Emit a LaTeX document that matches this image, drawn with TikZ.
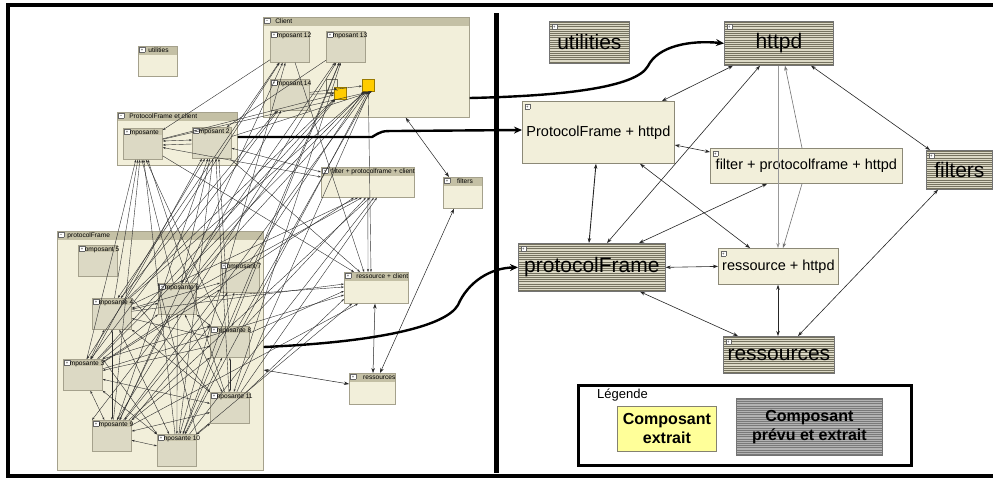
\documentclass[tikz,border=0pt]{standalone}
\usepackage{fontspec}
\setmainfont{Liberation Sans}
\usetikzlibrary{arrows.meta,calc}
\definecolor{contbg}{HTML}{F2EFDA}
\definecolor{conthd}{HTML}{C4C0A5}
\definecolor{compbg}{HTML}{DCD9C4}
\definecolor{comphd}{HTML}{C9C5AC}
\definecolor{bord}{HTML}{A5A18C}
\definecolor{stripeA}{HTML}{DCD9C6}
\definecolor{stripeB}{HTML}{75725F}
\definecolor{ylw}{HTML}{FFCC00}
\definecolor{legy}{HTML}{FFFF99}
\newcommand\ico[1]{{\setlength{\fboxsep}{0pt}\setlength{\fboxrule}{0.3pt}\fcolorbox{black!60}{white}{\makebox[4.8pt][c]{\raisebox{0.3pt}[4.6pt][0.2pt]{\fontsize{4.2}{4.2}\selectfont #1}}}}}
\newcommand\cbox[7]{\node[#2, minimum width=#5pt, minimum height=#6pt] (#1) at (#3,#4) {};
  \node[hdr] (#1-t) at ([xshift=1.2pt,yshift=-1pt]#1.north west) {#7};}
\begin{document}
\begin{tikzpicture}[x=1pt,y=-1pt,
  box/.style={draw=bord, line width=0.7pt, inner sep=0pt, anchor=north west},
  cont/.style={box, fill=contbg, path picture={\fill[conthd] (path picture bounding box.north west) rectangle ([yshift=-8.5pt]path picture bounding box.north east);}},
  comp/.style={box, fill=compbg, path picture={\fill[comphd] (path picture bounding box.north west) rectangle ([yshift=-7pt]path picture bounding box.north east);}},
  hdr/.style={anchor=north west, inner sep=0pt, font=\fontsize{6.6}{7}\selectfont, text=black},
  web/.style={draw=black!82, line width=0.4pt, -{Stealth[length=3pt,width=2pt]}},
  webd/.style={web, {Stealth[length=3pt,width=2pt]}-{Stealth[length=3pt,width=2pt]}},
  link/.style={draw=black!85, line width=0.6pt, {Stealth[length=5pt,width=3.5pt]}-{Stealth[length=5pt,width=3.5pt]}},
  glink/.style={draw=black!40, line width=0.6pt, -{Stealth[length=5pt,width=3.5pt]}},
  bigarrow/.style={draw=black, line width=2.4pt, -{Stealth[length=8pt,width=7pt]}},
  rlight/.style={box, draw=bord!85!black, line width=0.8pt, fill=contbg},
  rstripe/.style={box, draw=black!55, line width=0.7pt, fill=stripeA, path picture={\foreach \i in {0,...,30}{\draw[stripeB, line width=0.9pt] ([yshift={-(\i*2.2+1)*1pt}]path picture bounding box.north west) -- ([yshift={-(\i*2.2+1)*1pt}]path picture bounding box.north east);}}},
  gstripe/.style={box, draw=black!55, line width=0.7pt, fill=gray!60, path picture={\foreach \i in {0,...,30}{\draw[gray!95!black, line width=0.9pt] ([yshift={-(\i*2.2+1)*1pt}]path picture bounding box.north west) -- ([yshift={-(\i*2.2+1)*1pt}]path picture bounding box.north east);}}},
  big/.style={font=\fontsize{21}{24}\selectfont},
  mid/.style={font=\fontsize{14.5}{17}\selectfont},
  ico/.style={anchor=north west, inner sep=0pt}
]
\useasboundingbox (0,0) rectangle (993,479);
\fill[white] (0,0) rectangle (993,479);

% ---------------- left panel: containers ----------------
\cbox{uL}{cont}{138}{46}{39}{30}{\ico{+}\ \ utilities}
\cbox{client}{cont}{263}{17}{206}{100}{\ico{−}\ \ \ Client}
\cbox{pfc}{cont}{117}{112}{120}{53}{\ico{−}\ \ \ ProtocolFrame et client}
\cbox{pf}{cont}{57}{231}{206}{239}{\ico{−}\ \ protocolFrame}
\cbox{fpc}{cont}{321}{167}{93}{30}{\ico{+}\ \ filter + protocolframe + client}
\cbox{filtL}{cont}{443}{177}{39}{31}{\ico{+}\ \ \ \ filters}
\cbox{rcl}{cont}{344}{272}{64}{31}{\ico{+}\ \ \ ressource + client}
\cbox{resL}{cont}{349}{373}{46}{31}{\ico{+}\ \ \ \ ressources}

% components
\cbox{c12}{comp}{270}{31}{39}{31}{\ico{+}mposant 12}
\cbox{c13}{comp}{326}{31}{39}{31}{\ico{+}mposant 13}
\cbox{c14}{comp}{270}{79}{39}{31}{\ico{+}mposant 14}
\cbox{c1}{comp}{123}{128}{39}{31}{\ico{+}mposante}
\cbox{c2}{comp}{192}{127}{39}{31}{\ico{+}mposant 2}
\cbox{c5}{comp}{78}{245}{39}{31}{\ico{+}omposant 5}
\cbox{c7}{comp}{220}{262}{39}{30}{\ico{+}omposant 7}
\cbox{c6}{comp}{158}{283}{38}{31}{\ico{+}mposante 6}
\cbox{c4}{comp}{92}{298}{39}{31}{\ico{+}mposante 4}
\cbox{c8}{comp}{210}{326}{39}{31}{\ico{+}mposante 8}
\cbox{c3}{comp}{63}{359}{39}{31}{\ico{+}mposante 3}
\cbox{c11}{comp}{210}{392}{39}{31}{\ico{+}nposante 11}
\cbox{c9}{comp}{92}{420}{39}{31}{\ico{+}mposante 9}
\cbox{c10}{comp}{157}{434}{39}{32}{\ico{+}nposante 10}

\node[box, draw=bord!70!black, line width=0.4pt, minimum width=11pt, minimum height=13pt] (cbx) at (326,79) {};
\node[box, draw=ylw!60!black, line width=0.5pt, fill=ylw, minimum size=12pt] (y1) at (334,87) {};
\node[box, draw=ylw!60!black, line width=0.5pt, fill=ylw, minimum size=12pt] (y2) at (362,79) {};

% ---------------- left panel: web of dependencies ----------------
\foreach \s/\o in {c3/-7,c4/-5,c9/-3,c6/-1,c10/1,c8/3,c11/5}
  \draw[web] (\s) -- ([xshift=\o pt]c1.south);
\foreach \s/\o in {c3/-10,c4/-7,c9/-4,c6/-2,c10/1,c11/4,c8/7}
  \draw[web] (\s) -- ([xshift=\o pt]c2.south);
\draw[web] (c12) -- ([yshift=-2pt]c1.north east);
\draw[web] (c13) -- ([xshift=-5pt]c2.north east);
\foreach \s/\t/\o in {c12/c3/4, c12/c4/6, c12/c9/8, c13/c6/4, c13/c10/6, c13/c8/2, c13/c11/4, c14/c3/8, c14/c4/9, c13/c9/5, c12/c10/3, c14/c6/8}
  \draw[webd] (\s) -- ([xshift=\o pt]\t.north);
\foreach \s/\o in {c3/-4,c4/-3,c6/-2,c9/-1,c10/0,c11/1,c8/2,c1/3,c2/4,c7/-5}
  \draw[web] (\s) -- ([xshift=\o pt]y2.south);
\foreach \s in {c3,c4,c6,c1,c14}
  \draw[web] (\s) -- (y1);
\draw[web] (c14) -- (y2);
\draw[web] (cbx) -- (y1);
\foreach \s/\o in {c3/-14,c4/-10,c6/-6,c8/-2,c9/2,c10/6,c11/9}
  \draw[web] (\s) -- ([xshift=\o pt]fpc.south);
\draw[webd] (c1) -- ([yshift=-10pt]fpc.north west);
\draw[webd] (c2) -- ([yshift=-5pt]fpc.north west);
\foreach \s/\o in {c1/10,c2/16,c12/20,fpc/24}
  \draw[web] (\s) -- ([xshift=\o pt]rcl.north west);
\draw[web] (y2) -- ([xshift=27pt]rcl.north west);
\foreach \s/\o in {c4/12,c6/15,c8/19,c3/23,c11/27}
  \draw[web] (\s) -- ([yshift=-\o pt]rcl.north west);
\foreach \s/\o in {c10/8,c9/14}
  \draw[web] (\s) -- ([xshift=\o pt]rcl.south west);
\draw[webd] ([yshift=-13pt]c1.north east) -- ([yshift=-13pt]c2.north west);
\draw[web] ([yshift=-17pt]c2.north west) -- ([yshift=-17pt]c1.north east);
\foreach \a/\b in {c4/c6,c4/c8,c4/c3,c4/c9,c4/c10,c4/c11,c6/c8,c6/c3,c6/c9,c6/c10,c6/c11,c8/c3,c8/c9,c8/c10,c8/c11,c3/c9,c3/c10,c3/c11,c9/c10,c9/c11,c10/c11,c7/c3,c7/c9,c7/c4,c7/c10}
  \draw[webd] (\a) -- (\b);
\foreach \a/\b in {c4/c11,c6/c9,c3/c8,c9/c8,c10/c6,c3/c10}
  \draw[web] (\a.north east) -- (\b.north west);

% left panel plain links
\draw[link, line width=0.5pt] ([xshift=-64pt]client.south east) -- ([xshift=6pt]filtL.north west);
\draw[link, line width=0.5pt] ([xshift=11pt]filtL.south west) -- ([xshift=31pt]resL.north west);
\draw[link, line width=0.5pt] ([xshift=31pt]rcl.south west) -- ([xshift=24pt]resL.north west);
\draw[link, line width=0.5pt] ([yshift=-139pt]pf.north east) -- ([yshift=-11pt]resL.north west);

% ---------------- frame ----------------
\draw[line width=4.5pt] (993,5) -- (8,5) -- (8,476) -- (993,476);
\draw[line width=5pt] (496,13) -- (496,473);

% ---------------- right panel ----------------
\node[rstripe, big, minimum width=80pt, minimum height=42pt] (utilR) at (549,21) {utilities};
\node[rstripe, big, minimum width=109pt, minimum height=44pt] (httpd) at (724,21) {httpd};
\node[rlight, mid, minimum width=152pt, minimum height=62pt] (pfh) at (522,101) {ProtocolFrame + httpd};
\node[rlight, mid, minimum width=192pt, minimum height=35pt] (fph) at (710,148) {filter + protocolframe + httpd};
\node[rstripe, big, minimum width=66pt, minimum height=39pt] (filtR) at (926,150) {filters};
\node[rstripe, big, minimum width=147pt, minimum height=48pt] (pfr) at (518,243) {protocolFrame};
\node[rlight, mid, minimum width=120pt, minimum height=36pt] (rh) at (718,248) {ressource + httpd};
\node[rstripe, big, minimum width=111pt, minimum height=37pt] (resR) at (723,336) {ressources};
\foreach \n in {utilR,httpd,pfh,fph,filtR,pfr,rh,resR}
  \node[ico] (\n-i) at ([xshift=2.5pt,yshift=-2.5pt]\n.north west) {\ico{+}};

\draw[link] ([xshift=9pt]httpd.south west) -- ([xshift=140pt]pfh.north west);
\draw[link] ([xshift=36pt]httpd.south west) -- ([xshift=89pt]pfr.north west);
\draw[link] ([yshift=-44pt]pfh.north east) -- ([yshift=-4pt]fph.north west);
\draw[link, line width=0.9pt] ([xshift=74pt]pfh.south west) -- ([xshift=71pt]pfr.north west);
\draw[link] ([xshift=57pt]fph.south west) -- ([xshift=121pt]pfr.north west);
\draw[link] ([xshift=118pt]pfh.south west) -- ([xshift=32pt]rh.north west);
\draw[glink] ([xshift=54pt]httpd.south west) -- ([xshift=60pt]rh.north west);
\draw[glink, draw=black!55] ([xshift=92pt]fph.north west) -- ([xshift=61pt]httpd.south west);
\draw[glink, draw=black!55] ([xshift=92pt]fph.south west) -- ([xshift=65pt]rh.north west);
\draw[link] ([xshift=87pt]httpd.south west) -- ([xshift=4pt]filtR.north west);
\draw[link] (pfr.east) -- (rh.west);
\draw[link] ([xshift=122pt]pfr.south west) -- ([xshift=15pt]resR.north west);
\draw[link] ([xshift=60pt]rh.south west) -- ([xshift=55pt]resR.north west);
\draw[link] ([xshift=12pt]filtR.south west) -- ([xshift=75pt]resR.north west);

% ---------------- mapping arrows ----------------
\draw[bigarrow] ([yshift=-81pt]client.north east) .. controls (560,96) and (636,88) .. (648,66) .. controls (658,46) and (690,40) .. (httpd.west);
\draw[bigarrow] ([yshift=-25pt]pfc.north east) -- (372,137) .. controls (382,131) .. (395,131) -- ([yshift=-29pt]pfh.north west);
\draw[bigarrow] ([yshift=-116pt]pf.north east) .. controls (380,342) and (446,326) .. (458,305) .. controls (468,282) and (490,268) .. (pfr.west);

% ---------------- legend ----------------
\node[box, draw=black, line width=3pt, minimum width=333pt, minimum height=80pt] (leg) at (577,384) {};
\node[anchor=west, inner sep=0pt, font=\fontsize{13}{15}\selectfont] (legt) at (597,395) {Légende};
\node[box, draw=bord!80!black, line width=0.8pt, fill=legy, minimum width=99pt, minimum height=45pt, align=center, font=\bfseries\fontsize{16}{19}\selectfont] (legy) at (617,406) {Composant\\extrait};
\node[gstripe, minimum width=146pt, minimum height=57pt, align=center, font=\bfseries\fontsize{16}{19}\selectfont] (legg) at (736,398) {Composant\\prévu et extrait};
\end{tikzpicture}
\end{document}
